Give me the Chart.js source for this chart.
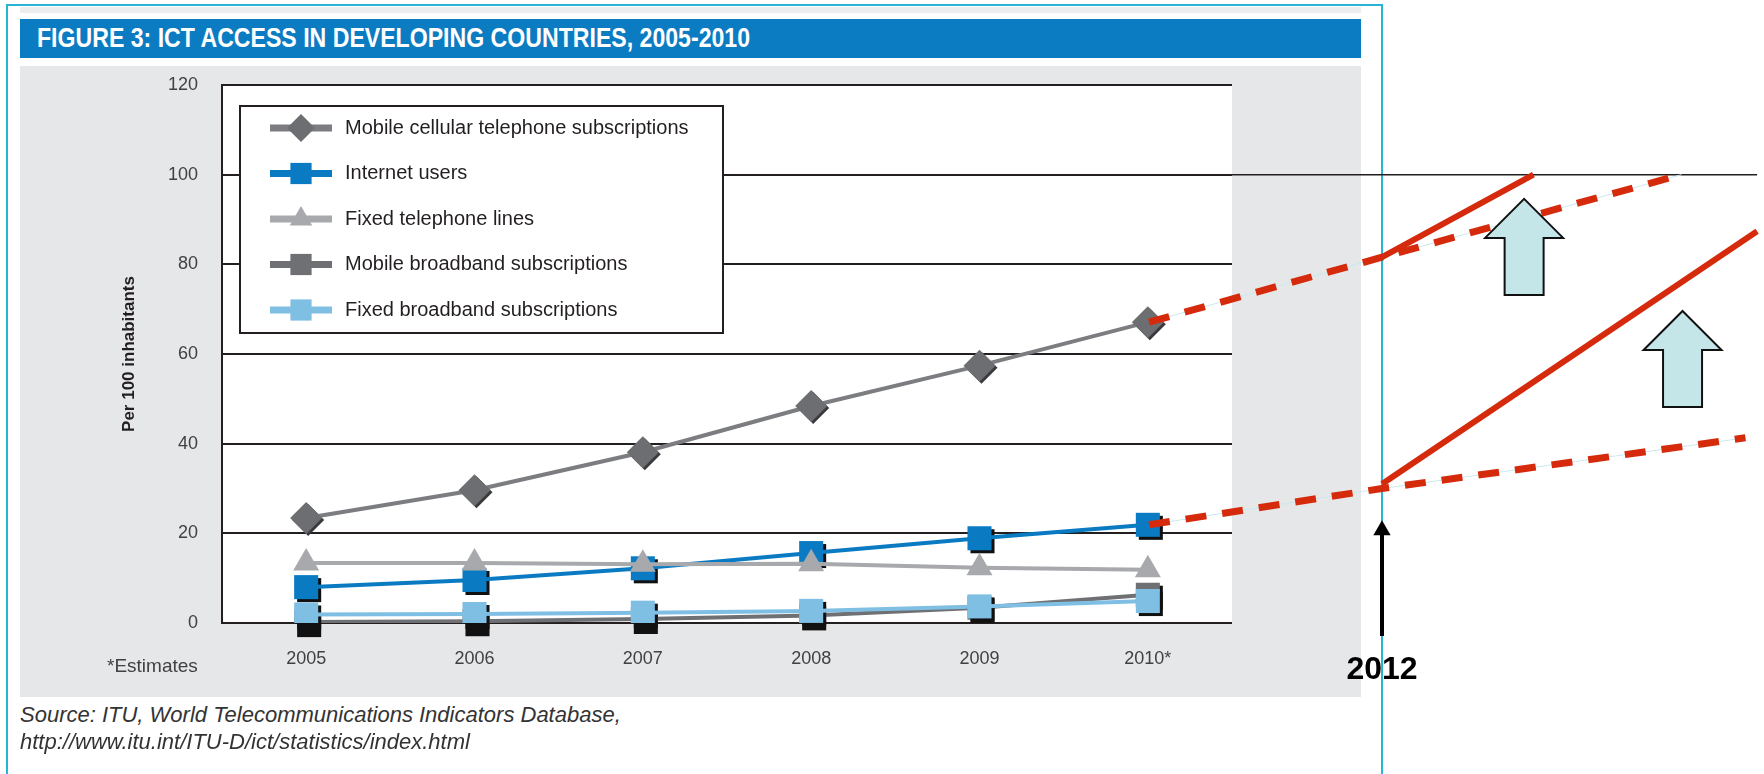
<!DOCTYPE html>
<html>
<head>
<meta charset="utf-8">
<script src="https://cdn.jsdelivr.net/npm/chart.js"></script>
<style>
  html, body { margin: 0; padding: 0; background: #fff; }
  body { width: 1764px; height: 774px; position: relative; overflow: hidden;
         font-family: "Liberation Sans", Arial, sans-serif; }
  .abs { position: absolute; }
  #frame { left: 6px; top: 4px; width: 1373px; height: 900px; border: 2px solid #27b4d6; border-bottom: none; }
  #band { left: 20px; top: 7px; width: 1341px; height: 6px; background: #ecedee; }
  #titlebar { left: 20px; top: 19px; width: 1341px; height: 39px; background: #0b7cc2; }
  #title { position: absolute; left: 17px; top: 5px; font-size: 28px; line-height: 28px; font-weight: bold;
           color: #fff; white-space: nowrap; transform-origin: left center; }
  #panel { left: 20px; top: 66px; width: 1341px; height: 631px; background: #e6e7e8; }
  #main { left: 20px; top: 66px; }
  #overlay { left: 0; top: 0; }
  #estimates { left: 107px; top: 655px; font-size: 19px; line-height: 22px; color: #414042; }
  .source { left: 20px; font-size: 22px; line-height: 26px; font-style: italic; color: #333; white-space: nowrap; }
  #year2012 { left: 1332px; top: 652px; width: 100px; text-align: center; font-size: 32px; line-height: 32px;
              font-weight: bold; color: #000; }
</style>
</head>
<body>
<div id="frame" class="abs"></div>
<div id="band" class="abs"></div>
<div id="titlebar" class="abs"><span id="title">FIGURE 3: ICT ACCESS IN DEVELOPING COUNTRIES, 2005-2010</span></div>
<div id="panel" class="abs"></div>
<canvas id="main" class="abs" width="1341" height="631"></canvas>
<div id="estimates" class="abs">*Estimates</div>
<div class="abs source" style="top:702px">Source: ITU, World Telecommunications Indicators Database,</div>
<div class="abs source" style="top:729px">http://www.itu.int/ITU-D/ict/statistics/index.html</div>
<canvas id="overlay" class="abs" width="1764" height="774"></canvas>
<div id="year2012" class="abs">2012</div>

<script>
// figure data, per 100 inhabitants
const years = ['2005', '2006', '2007', '2008', '2009', '2010*']
const mobileCellular = [23.4, 29.6, 38.1, 48.4, 57.4, 67.1]
const internetUsers = [8.0, 9.6, 12.2, 15.6, 18.9, 21.9]
const fixedTelephone = [13.4, 13.4, 13.1, 13.2, 12.3, 11.9]
const mobileBroadband = [0.2, 0.4, 0.9, 1.7, 3.4, 6.3]
const fixedBroadband = [1.9, 2.0, 2.3, 2.7, 3.7, 4.9]
const yTicks = [0, 20, 40, 60, 80, 100, 120]

// hand drawn projection on the right (year, value)
const trendMobileX = [2010, 2012, 2014.57]
const trendMobileY = [67.1, 81.6, 100]
const boostMobileX = [2012, 2013.3]
const boostMobileY = [81.6, 100]
const trendInternetX = [2010, 2012, 2015.12]
const trendInternetY = [21.9, 30.0, 41.3]
const boostInternetX = [2012, 2015.22]
const boostInternetY = [31.0, 87.4]
const hundredX = [2010.71, 2015.22]
const hundredY = [100, 100]
const markerX = [2012, 2012]
const markerY = [-2.9, 20.7]
const upArrowX = [2013.22, 2014.58]
const upArrowY = [94.6, 69.6]

Chart.defaults.font.family = '"Liberation Sans", Arial, sans-serif'

// draw one point shape as a path (same geometry as chart.js)
const shape = (ctx, style, x, y, r) => {
  ctx.beginPath()
  if (style === 'rect') {
    const s = r * Math.SQRT1_2
    ctx.rect(x - s, y - s, 2 * s, 2 * s)
  } else if (style === 'rectRot') {
    ctx.moveTo(x, y - r); ctx.lineTo(x + r, y); ctx.lineTo(x, y + r); ctx.lineTo(x - r, y)
    ctx.closePath()
  } else {
    ctx.moveTo(x, y - r)
    ctx.lineTo(x + r * 0.866, y + r * 0.5)
    ctx.lineTo(x - r * 0.866, y + r * 0.5)
    ctx.closePath()
  }
}

const series = [
  { label: 'Mobile cellular telephone subscriptions', data: mobileCellular, line: '#7c7d80', fill: '#6d6e71', style: 'rectRot', r: 16, lr: 14, shadow: 2, order: 5 },
  { label: 'Internet users', data: internetUsers, line: '#0a7bc2', fill: '#0a7bc2', style: 'rect', r: 17, lr: 15, shadow: 3, order: 4 },
  { label: 'Fixed telephone lines', data: fixedTelephone, line: '#a7a9ac', fill: '#a7a9ac', style: 'triangle', r: 15, lr: 13, shadow: 0, order: 3 },
  { label: 'Mobile broadband subscriptions', data: mobileBroadband, line: '#6f7073', fill: '#6f7073', style: 'rect', r: 17, lr: 15, shadow: 3, order: 2 },
  { label: 'Fixed broadband subscriptions', data: fixedBroadband, line: '#80bfe4', fill: '#80bfe4', style: 'rect', r: 17, lr: 15, shadow: 3, order: 1 },
]

const datasets = series.map(s => ({
  label: s.label,
  data: s.data,
  borderColor: s.line,
  borderWidth: 4,
  backgroundColor: s.fill,
  pointStyle: s.style,
  pointRadius: s.r,
  pointHoverRadius: s.r,
  pointBackgroundColor: s.fill,
  pointBorderWidth: 0,
  order: s.order,
  shadow: s.shadow,
  legendRadius: s.lr,
}))

// white plot area
const plotBackground = {
  id: 'plotBackground',
  beforeDraw(chart) {
    const { ctx, chartArea: a } = chart
    ctx.save()
    ctx.fillStyle = '#fff'
    ctx.fillRect(a.left, a.top, a.right - a.left, a.bottom - a.top)
    ctx.restore()
  }
}

// dark drop shadow under the markers
const markerShadow = {
  id: 'markerShadow',
  beforeDatasetDraw(chart, args) {
    const ds = chart.data.datasets[args.index]
    if (!ds.shadow) return
    const ctx = chart.ctx
    ctx.save()
    ctx.fillStyle = ds.pointStyle === 'rectRot' ? '#3a3a3c' : '#111'
    args.meta.data.forEach(pt => {
      shape(ctx, ds.pointStyle, pt.x + ds.shadow, pt.y + ds.shadow, ds.pointRadius)
      ctx.fill()
    })
    ctx.restore()
  }
}

// legend in a framed box inside the plot
const boxLegend = {
  id: 'boxLegend',
  afterDatasetsDraw(chart) {
    const { ctx, chartArea } = chart
    const left = chartArea.left + 18, top = chartArea.top + 21
    ctx.save()
    ctx.fillStyle = '#fff'
    ctx.fillRect(left, top, 483, 227)
    ctx.lineWidth = 2
    ctx.strokeStyle = '#231f20'
    ctx.strokeRect(left, top, 483, 227)
    chart.data.datasets.forEach((ds, i) => {
      const y = top + 22 + i * 45.5
      ctx.strokeStyle = ds.borderColor
      ctx.lineWidth = 7
      ctx.beginPath(); ctx.moveTo(left + 30, y); ctx.lineTo(left + 92, y); ctx.stroke()
      ctx.fillStyle = ds.pointBackgroundColor
      shape(ctx, ds.pointStyle, left + 61, y, ds.legendRadius)
      ctx.fill()
      ctx.fillStyle = '#231f20'
      ctx.font = '20px "Liberation Sans", Arial, sans-serif'
      ctx.textBaseline = 'middle'
      ctx.fillText(ds.label, left + 105, y)
    })
    ctx.restore()
  }
}

new Chart(document.getElementById('main'), {
  type: 'line',
  data: { labels: years, datasets: datasets },
  options: {
    responsive: false,
    animation: false,
    layout: { autoPadding: false, padding: { left: 95, top: 19, right: 129, bottom: 0 } },
    plugins: { legend: { display: false }, tooltip: { enabled: false } },
    scales: {
      x: {
        offset: true,
        afterFit: s => { s.height = 74 },
        grid: { display: false, drawTicks: false },
        border: { display: false },
        ticks: { padding: 25, color: '#414042', font: { size: 18 }, maxRotation: 0 }
      },
      y: {
        min: 0, max: 120,
        afterFit: s => { s.width = 107 },
        afterBuildTicks: s => { s.ticks = yTicks.map(v => ({ value: v })) },
        // invisible tick marks keep the labels away from the axis
        grid: { color: '#231f20', lineWidth: 2, drawTicks: true, tickLength: 24, tickColor: 'rgba(0,0,0,0)' },
        border: { display: true, color: '#231f20', width: 2 },
        ticks: { padding: 0, color: '#414042', font: { size: 18 } },
        title: { display: true, text: 'Per 100 inhabitants', color: '#231f20', font: { size: 17, weight: 'bold' } }
      }
    }
  },
  plugins: [plotBackground, markerShadow, boxLegend]
})

// projection sketch
const pairs = (xs, ys) => xs.map((x, i) => ({ x: x, y: ys[i] }))

const blockArrows = {
  id: 'blockArrows',
  afterDatasetsDraw(chart) {
    const { ctx, scales: { x, y } } = chart
    ctx.save()
    upArrowX.forEach((v, i) => {
      const cx = x.getPixelForValue(v), top = y.getPixelForValue(upArrowY[i])
      ctx.beginPath()
      ctx.moveTo(cx, top)
      ctx.lineTo(cx + 39, top + 39)
      ctx.lineTo(cx + 19.5, top + 39)
      ctx.lineTo(cx + 19.5, top + 96)
      ctx.lineTo(cx - 19.5, top + 96)
      ctx.lineTo(cx - 19.5, top + 39)
      ctx.lineTo(cx - 39, top + 39)
      ctx.closePath()
      ctx.fillStyle = '#c5e6e9'
      ctx.fill()
      ctx.lineWidth = 2
      ctx.strokeStyle = '#111'
      ctx.stroke()
    })
    ctx.restore()
  }
}

const sketch = (data, color, width, order, extra) => Object.assign({
  data: data, borderColor: color, borderWidth: width, order: order,
  clip: false, pointRadius: 0, borderCapStyle: 'butt'
}, extra || {})

new Chart(document.getElementById('overlay'), {
  type: 'line',
  data: {
    datasets: [
      sketch(pairs(hundredX, hundredY), '#231f20', 1.5, 5),
      sketch(pairs(trendMobileX, trendMobileY), '#c9e9ee', 1, 4),
      sketch(pairs(trendInternetX, trendInternetY), '#c9e9ee', 1, 4),
      sketch(pairs(trendMobileX, trendMobileY), '#d52a0c', 7, 3, { borderDash: [21, 16] }),
      sketch(pairs(trendInternetX, trendInternetY), '#d52a0c', 7, 3, { borderDash: [21, 16] }),
      sketch(pairs(boostMobileX, boostMobileY), '#d52a0c', 6, 2),
      sketch(pairs(boostInternetX, boostInternetY), '#d52a0c', 6, 2),
      sketch(pairs(markerX, markerY), '#000', 4, 1, {
        pointStyle: 'triangle', pointRadius: [0, 10], pointBackgroundColor: '#000', pointBorderWidth: 0
      })
    ]
  },
  options: {
    responsive: false,
    animation: false,
    layout: { autoPadding: false, padding: { left: 1149, right: 3.4, top: 85, bottom: 151 } },
    plugins: { legend: { display: false }, tooltip: { enabled: false } },
    events: [],
    scales: {
      x: { type: 'linear', min: 2010, max: 2015.25, display: false },
      y: { min: 0, max: 120, display: false }
    }
  },
  plugins: [blockArrows]
})

// squeeze the heading into the width of the original banner
const title = document.getElementById('title')
title.style.transform = 'scaleX(' + (713 / title.offsetWidth) + ')'
</script>
</body>
</html>
